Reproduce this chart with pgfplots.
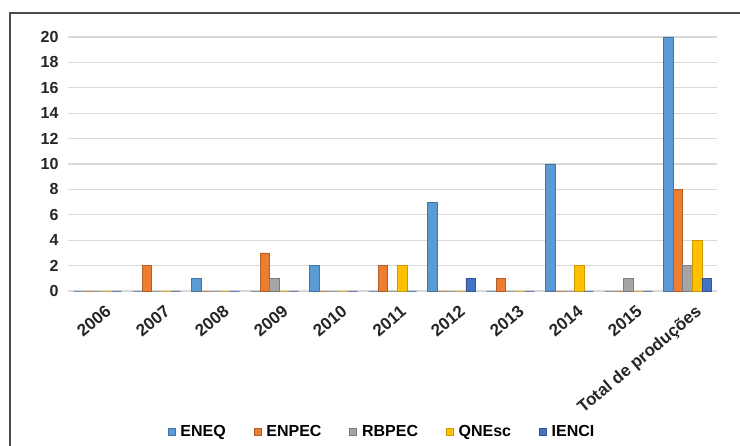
\documentclass[border=0pt]{standalone}
\usepackage{pgfplots}
\pgfplotsset{compat=1.18}
\usepackage{fontspec}
\setmainfont{Liberation Sans}
\definecolor{cEneq}{HTML}{5B9BD5}
\definecolor{cEnpec}{HTML}{ED7D31}
\definecolor{cRbpec}{HTML}{A5A5A5}
\definecolor{cQnesc}{HTML}{FFC000}
\definecolor{cIenci}{HTML}{4472C4}
\begin{document}
\begin{tikzpicture}[x=1bp,y=1bp]
\path[use as bounding box] (0,0) rectangle (740,446);
\draw[line width=1.6bp,color=black!70] (10,0) -- (10,433) -- (740,433);
\begin{axis}[
  at={(68bp,155bp)}, anchor=south west,
  scale only axis, width=649bp, height=254bp,
  xmin=-0.5, xmax=10.5, ymin=0, ymax=20,
  ybar=0pt, bar width=9.6bp,
  axis line style={draw=none},
  major tick style={draw=none},
  ymajorgrids, grid style={color=black!15, line width=1.3bp},
  ytick={0,2,...,20},
  xtick={0,...,10},
  xticklabels={2006,2007,2008,2009,2010,2011,2012,2013,2014,2015,Total de produções},
  font=\fontsize{16bp}{18bp}\selectfont\bfseries,
  /pgf/number format/assume math mode=true,
  yticklabel style={xshift=-6bp, color=black!85},
  xticklabel style={rotate=40, anchor=north east, xshift=3bp, yshift=-8bp, color=black!85,
    font=\fontsize{17bp}{19bp}\selectfont\bfseries},
  clip=false,
  legend columns=5,
  legend style={at={(0.484,-0.555)}, anchor=center, draw=none, fill=none,
    font=\fontsize{16bp}{18bp}\selectfont\bfseries,
    /tikz/every odd column/.append style={column sep=3bp},
    /tikz/every even column/.append style={column sep=26bp}},
  legend image code/.code={\fill[#1] (0bp,-3.5bp) rectangle (7bp,3.5bp);},
]
\addplot[fill=cEneq, draw=cEneq!75!black, line width=0.6bp] coordinates {
 (0,0) (1,0) (2,1) (3,0) (4,2) (5,0) (6,7) (7,0) (8,10) (9,0) (10,20)};
\addplot[fill=cEnpec, draw=cEnpec!75!black, line width=0.6bp] coordinates {
 (0,0) (1,2) (2,0) (3,3) (4,0) (5,2) (6,0) (7,1) (8,0) (9,0) (10,8)};
\addplot[fill=cRbpec, draw=cRbpec!75!black, line width=0.6bp] coordinates {
 (0,0) (1,0) (2,0) (3,1) (4,0) (5,0) (6,0) (7,0) (8,0) (9,1) (10,2)};
\addplot[fill=cQnesc, draw=cQnesc!80!black, line width=0.6bp] coordinates {
 (0,0) (1,0) (2,0) (3,0) (4,0) (5,2) (6,0) (7,0) (8,2) (9,0) (10,4)};
\addplot[fill=cIenci, draw=cIenci!75!black, line width=0.6bp] coordinates {
 (0,0) (1,0) (2,0) (3,0) (4,0) (5,0) (6,1) (7,0) (8,0) (9,0) (10,1)};
\legend{ENEQ, ENPEC, RBPEC, QNEsc, IENCI}
\end{axis}
\end{tikzpicture}
\end{document}
